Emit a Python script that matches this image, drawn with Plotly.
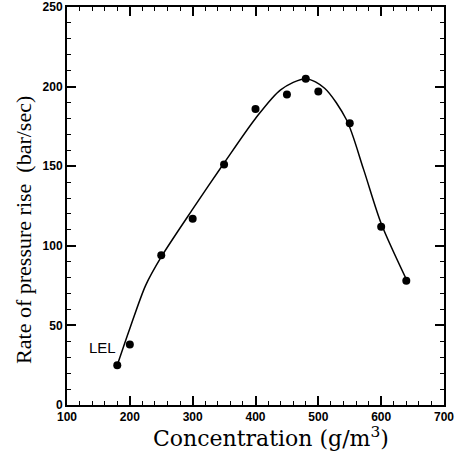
import plotly.graph_objects as go

# Measured data points
conc = [180, 200, 250, 300, 350, 400, 450, 480, 500, 550, 600, 640]
rate = [25, 38, 94, 117, 151, 186, 195, 205, 197, 177, 112, 78]

# Fitted curve
curve_x = [180, 200, 225, 250, 300, 350, 400, 440, 480, 510, 545, 572, 600, 640]
curve_y = [25, 48, 75, 93, 123, 152, 180, 198, 205, 199, 179, 148, 114, 79]

x_ticks = [100, 200, 300, 400, 500, 600, 700]
y_ticks = [0, 50, 100, 150, 200, 250]

fig = go.Figure()
fig.add_trace(go.Scatter(x=curve_x, y=curve_y, mode="lines",
                         line=dict(color="black", width=1.5, shape="spline", smoothing=0.8),
                         showlegend=False, hoverinfo="skip"))
fig.add_trace(go.Scatter(x=conc, y=rate, mode="markers",
                         marker=dict(color="black", size=8),
                         showlegend=False))

fig.add_annotation(x=156, y=36, text="LEL", showarrow=False,
                   font=dict(family="Liberation Sans", size=15, color="black"))

fig.add_annotation(xref="paper", yref="paper", x=0.541, y=0, yshift=-32,
                   xanchor="center", yanchor="middle", showarrow=False,
                   text="Concentration (g/m<sup>3</sup>)",
                   font=dict(family="DejaVu Serif", size=22, color="black"))
fig.add_annotation(xref="paper", yref="paper", x=0, y=0.44, xshift=-43,
                   xanchor="center", yanchor="middle", showarrow=False, textangle=-90,
                   text="Rate of pressure rise  (bar/sec)",
                   font=dict(family="Liberation Serif", size=22, color="black"))

tickfont = dict(family="Liberation Sans", size=12, color="black", weight="bold")
fig.update_xaxes(range=[100, 700], tickvals=x_ticks, ticktext=[str(v) for v in x_ticks],
                 ticks="inside", ticklen=9, tickwidth=2, tickcolor="black",
                 minor=dict(dtick=20, ticks="inside", ticklen=4, tickwidth=1, tickcolor="black"),
                 showline=True, linecolor="black", linewidth=2, mirror="allticks",
                 showgrid=False, zeroline=False, tickfont=tickfont, automargin=False)
fig.update_yaxes(range=[0, 250], tickvals=y_ticks, ticktext=[str(v) for v in y_ticks],
                 ticks="inside", ticklen=9, tickwidth=2, tickcolor="black",
                 minor=dict(dtick=10, ticks="inside", ticklen=4, tickwidth=1, tickcolor="black"),
                 showline=True, linecolor="black", linewidth=2, mirror="allticks",
                 showgrid=False, zeroline=False, tickfont=tickfont, automargin=False)

fig.update_layout(width=461, height=456, paper_bgcolor="white", plot_bgcolor="white",
                  margin=dict(l=67, r=17, t=7, b=51))
fig.write_html("out.html", config={"displayModeBar": False},
               post_script="document.body.style.margin='0';document.body.style.overflow='hidden';")
